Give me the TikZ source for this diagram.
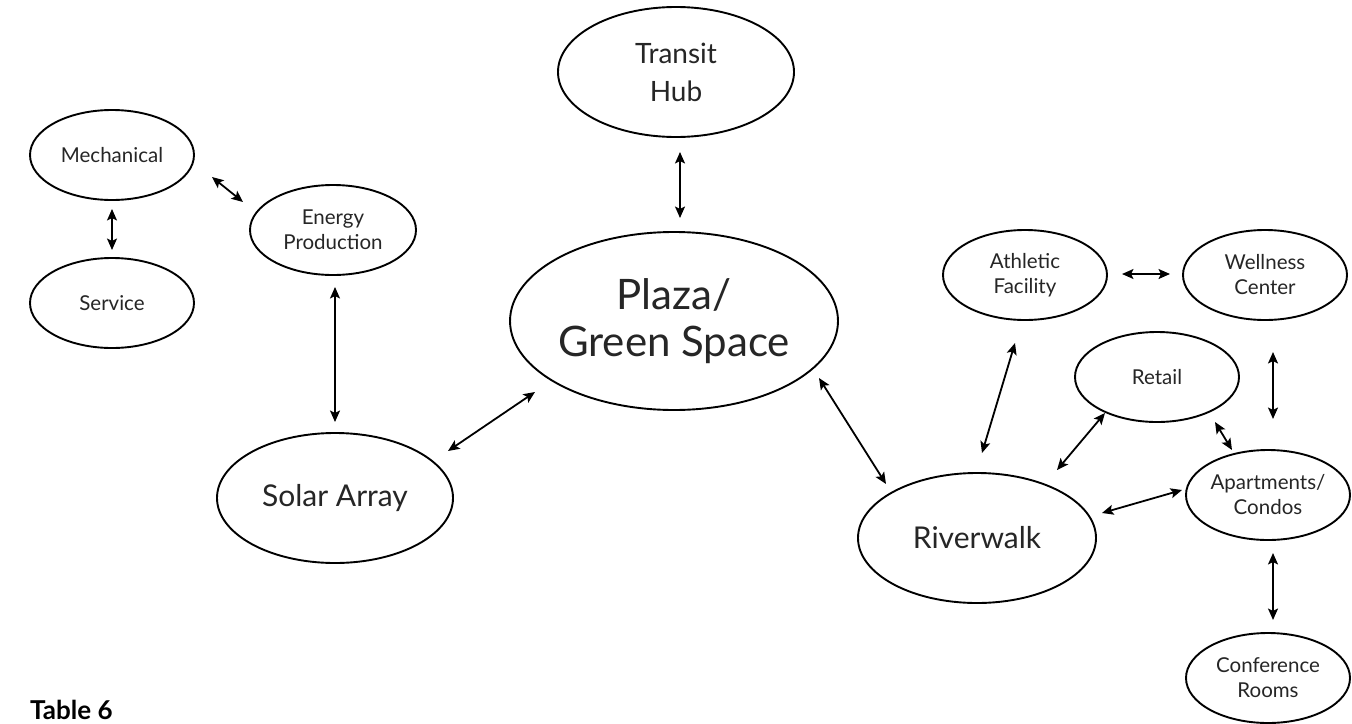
\documentclass[tikz,border=0pt]{standalone}
\usepackage{fontspec}
\setmainfont{Lato}
\usetikzlibrary{shapes.geometric,arrows.meta}
\definecolor{textgray}{HTML}{262626}
\begin{document}
\begin{tikzpicture}[x=1pt,y=-1pt,
  bub/.style={ellipse,draw=black,line width=1.9pt,inner sep=0pt,align=center,text=textgray},
  small/.style={bub,minimum width=164pt,minimum height=90pt,font=\fontsize{20.5}{25}\selectfont},
  medium/.style={bub,minimum width=236pt,minimum height=130pt,font=\fontsize{30}{38}\selectfont},
  large/.style={bub,minimum width=322pt,minimum height=178pt,font=\fontsize{42}{47}\selectfont},
  link/.style={{Stealth[length=11.5pt,width=10pt,inset=2.5pt]}-{Stealth[length=11.5pt,width=10pt,inset=2.5pt]},line width=1.8pt,black}]
\useasboundingbox (0,0) rectangle (1352,723);
\fill[white] (0,0) rectangle (1352,723);

% nodes
\node[small] (mech) at (112,155) {Mechanical};
\node[small] (serv) at (112,303) {Service};
\node[small,minimum width=166pt] (energy) at (333,230) {Energy\\Production};
\node[medium,font=\fontsize{28}{38}\selectfont] (transit) at (676,72) {Transit\\Hub};
\node[large] (plaza) at (674,321) {Plaza/\\Green Space};
\node[medium] (solar) at (335,498) {Solar Array};
\node[medium,minimum width=238pt] (river) at (977,538) {Riverwalk};
\node[small] (athletic) at (1025,275) {Athletic\\Facility};
\node[small] (wellness) at (1265,275) {Wellness\\Center};
\node[small] (retail) at (1157,377) {Retail};
\node[small] (apts) at (1268,495) {Apartments/\\Condos};
\node[small] (conf) at (1268,678) {Conference\\Rooms};
\node[anchor=base west,inner sep=0pt,font=\fontsize{26}{30}\selectfont\bfseries,text=black] (caption) at (30,719) {Table 6};

% connector end points
\coordinate (me1) at (212,177); \coordinate (me2) at (243,202);
\coordinate (ms1) at (112,209); \coordinate (ms2) at (112,250);
\coordinate (es1) at (335,287); \coordinate (es2) at (335,422);
\coordinate (tp1) at (680,152); \coordinate (tp2) at (680,218);
\coordinate (sp1) at (448,451); \coordinate (sp2) at (535,392);
\coordinate (pr1) at (819,378); \coordinate (pr2) at (886,484);
\coordinate (ar1) at (1015,343); \coordinate (ar2) at (982,453);
\coordinate (aw1) at (1122,274); \coordinate (aw2) at (1170,274);
\coordinate (rr1) at (1105,413); \coordinate (rr2) at (1057,470);
\coordinate (ra1) at (1215,422); \coordinate (ra2) at (1232,450);
\coordinate (wa1) at (1273,352); \coordinate (wa2) at (1273,419);
\coordinate (rv1) at (1102,513); \coordinate (rv2) at (1182,490);
\coordinate (ac1) at (1273,553); \coordinate (ac2) at (1273,620);

% connectors
\draw[link] (me1) -- (me2);
\draw[link] (ms1) -- (ms2);
\draw[link] (es1) -- (es2);
\draw[link] (tp1) -- (tp2);
\draw[link] (sp1) -- (sp2);
\draw[link] (pr1) -- (pr2);
\draw[link] (ar1) -- (ar2);
\draw[link] (aw1) -- (aw2);
\draw[link] (rr1) -- (rr2);
\draw[link] (ra1) -- (ra2);
\draw[link] (wa1) -- (wa2);
\draw[link] (rv1) -- (rv2);
\draw[link] (ac1) -- (ac2);
\end{tikzpicture}
\end{document}
